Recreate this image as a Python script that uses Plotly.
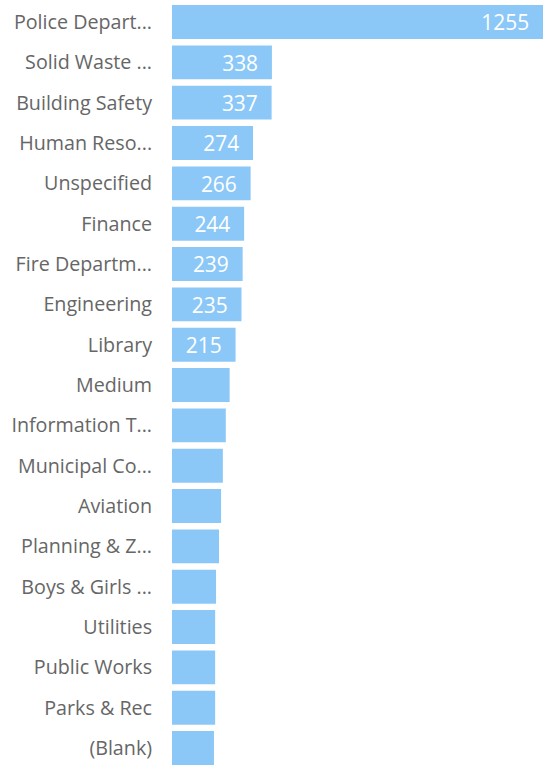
import plotly.graph_objects as go

categories = ["Police Depart...", "Solid Waste ...", "Building Safety", "Human Reso...",
              "Unspecified", "Finance", "Fire Departm...", "Engineering", "Library",
              "Medium", "Information T...", "Municipal Co...", "Aviation",
              "Planning & Z...", "Boys & Girls ...", "Utilities", "Public Works",
              "Parks & Rec", "(Blank)"]
values = [1255, 338, 337, 274, 266, 244, 239, 235, 215,
          195, 182, 172, 166, 159, 149, 146, 146, 146, 142]
label_threshold = 200

labels = [f"{v}\u00a0\u00a0" if v >= label_threshold else "" for v in values]

FONT = "Open Sans, Noto Sans, sans-serif"

fig = go.Figure(go.Bar(
    x=values, y=categories, orientation="h",
    marker=dict(color="#8CC8F7", line=dict(width=0)),
    text=labels, textposition="inside", insidetextanchor="end",
    textfont=dict(color="white", size=25.5, family=FONT),
    textangle=0, hoverinfo="skip",
))

fig.update_layout(
    width=543, height=765,
    margin=dict(l=172, r=0, t=2, b=0),
    paper_bgcolor="white", plot_bgcolor="white",
    bargap=0.16, showlegend=False,
    font=dict(family=FONT, color="#666666", size=19.7),
    uniformtext=dict(mode="show", minsize=8),
)
fig.update_xaxes(range=[0, 1255], visible=False, fixedrange=True)
fig.update_yaxes(type="category", range=[18.42, -0.496], showgrid=False, showline=False,
                 zeroline=False, ticks="outside", ticklen=15, tickcolor="rgba(0,0,0,0)",
                 fixedrange=True,
                 tickfont=dict(size=19.7, color="#666666", family=FONT))

fig.write_html("out.html", config={"displayModeBar": False},
               post_script="document.body.style.margin='0';document.body.style.overflow='hidden';")
